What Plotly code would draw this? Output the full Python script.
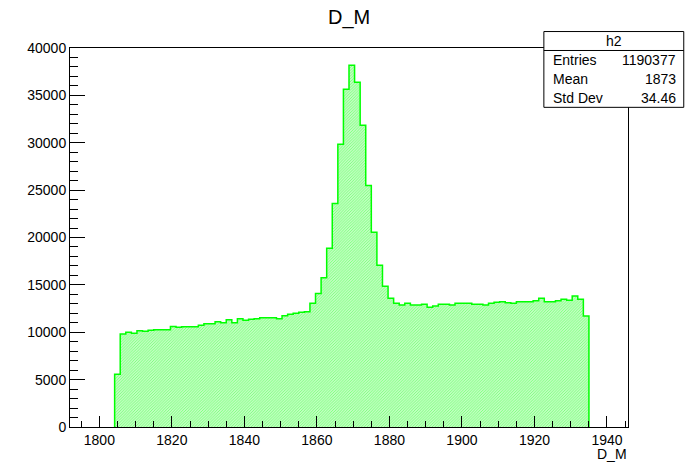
import plotly.graph_objects as go

# histogram definition (h2, variable D_M)
x_min = 1791.9
x_max = 1945.8
n_bins = 100
first_bin = 8  # index of first non-empty bin

counts = [
    5560, 9820, 9990, 9890, 10170, 10100, 10200, 10270, 10270, 10270,
    10620, 10520, 10590, 10590, 10590, 10730, 10910, 10910, 11120, 11010,
    11330, 11010, 11430, 11260, 11360, 11430, 11540, 11540, 11540, 11430,
    11750, 11890, 12000, 12100, 12170, 13050, 14100,
    15760, 18860, 23600, 29830, 35640, 38170, 36380, 31840, 25500, 20550, 17060,
    14850, 13600, 13050, 12880, 13050, 12880, 12880, 12950, 12630, 12770,
    12950, 12950, 12880, 13050, 13050, 13050, 12950, 12950, 12880, 13050,
    13160, 13230, 13120, 13050, 13230, 13230, 13230, 13330, 13580, 13230,
    13230, 13330, 13480, 13370, 13830, 13480, 11710,
]

stats_labels = ["Entries", "Mean", "Std Dev"]
stats_values = ["1190377", "1873", "34.46"]
hist_name = "h2"
title = "D_M"

bin_w = (x_max - x_min) / n_bins
edges = [x_min + (first_bin + i) * bin_w for i in range(len(counts) + 1)]
xs = [edges[0]] + edges[:-1] + [edges[-1], edges[-1]]
ys = [0] + counts + [counts[-1], 0]

# canvas is 698x475 but the page body adds an 8px offset
W, H, OFF = 698, 475, 8
L, R, T, B = 69.8, 628.2, 47.5, 427.5
FONT = "Liberation Sans, Arial, sans-serif"


def px(x):
    return (x - L) / (R - L)


def py(y):
    return (B - y) / (B - T)


fig = go.Figure()
fig.add_trace(go.Scatter(
    x=xs, y=ys,
    mode="lines",
    line=dict(color="#00ff00", width=1.5, shape="hv"),
    fill="tozeroy",
    fillcolor="rgba(0,0,0,0)",
    fillpattern=dict(shape="/", fgcolor="#00ff00", bgcolor="white",
                     size=2, solidity=0.65),
    hoverinfo="skip",
    showlegend=False,
))

axis_common = dict(
    showgrid=False, zeroline=False,
    showline=True, linecolor="black", linewidth=1, mirror=True,
    ticks="inside", tickcolor="black", tickwidth=1,
    tickfont=dict(family=FONT, size=14, color="black"),
)

fig.update_xaxes(
    range=[x_min, x_max], tick0=1800, dtick=20, ticklen=11,
    minor=dict(ticks="inside", ticklen=6, dtick=5, tick0=1800, tickcolor="black"),
    **axis_common,
)
fig.update_yaxes(
    range=[0, 40000], tick0=0, dtick=5000, ticklen=15, tickformat="d",
    minor=dict(ticks="inside", ticklen=8, dtick=1000, tickcolor="black"),
    **axis_common,
)

# stats box
bx0, bx1, by0, by1, bsep = 544, 684, 31, 107, 50
fig.add_shape(type="rect", xref="paper", yref="paper",
              x0=px(bx0), x1=px(bx1), y0=py(by1), y1=py(by0),
              line=dict(color="black", width=1), fillcolor="white", layer="above")
fig.add_shape(type="line", xref="paper", yref="paper",
              x0=px(bx0), x1=px(bx1), y0=py(bsep), y1=py(bsep),
              line=dict(color="black", width=1), layer="above")

ann = [dict(x=px((bx0 + bx1) / 2), y=py(40.5), text=hist_name,
            xanchor="center", yanchor="middle")]
for i, (lab, val) in enumerate(zip(stats_labels, stats_values)):
    yy = py(59.5 + i * 19)
    ann.append(dict(x=px(551), y=yy, text=lab, xanchor="left", yanchor="middle"))
    ann.append(dict(x=px(678), y=yy, text=val, xanchor="right", yanchor="middle"))

# axis title at bottom right and main title
ann.append(dict(x=px(629), y=py(455), text=title, xanchor="right", yanchor="middle"))
for a in ann:
    a.update(xref="paper", yref="paper", showarrow=False,
             font=dict(family=FONT, size=14, color="black"))
    fig.add_annotation(**a)
fig.add_annotation(x=px(349), y=py(17), xref="paper", yref="paper", text=title,
                   showarrow=False, xanchor="center", yanchor="middle", borderpad=0,
                   font=dict(family=FONT, size=20, color="black"))

fig.update_layout(
    width=W - OFF, height=H - OFF,
    margin=dict(l=L - OFF, r=W - R, t=T - OFF, b=H - B, autoexpand=False),
    paper_bgcolor="white", plot_bgcolor="white",
    font=dict(family=FONT, size=14, color="black"),
)

fig.write_html("out.html")
